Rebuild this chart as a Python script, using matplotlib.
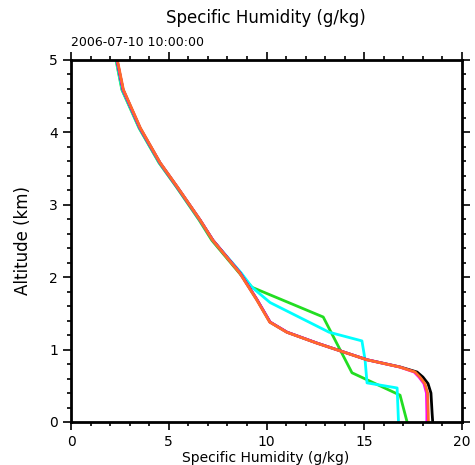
import matplotlib
matplotlib.use("Agg")
import matplotlib.pyplot as plt
from matplotlib.ticker import MultipleLocator

# altitude levels (km) and specific humidity (g/kg) for each profile
alt_main = [0.0, 0.12, 0.4, 0.53, 0.62, 0.69, 0.76, 0.86, 0.97, 1.09, 1.24, 1.38,
            1.69, 2.06, 2.51, 2.79, 3.25, 3.58, 4.06, 4.59, 5.0]
q_black = [18.5, 18.47, 18.41, 18.26, 18.0, 17.7, 16.83, 15.14, 13.91, 12.58, 11.05, 10.18,
           9.51, 8.64, 7.26, 6.6, 5.42, 4.55, 3.53, 2.66, 2.35]
q_magenta = [18.2, 18.2, 18.18, 18.05, 17.8, 17.55, 16.8, 15.14, 13.91, 12.58, 11.05, 10.18,
             9.51, 8.64, 7.26, 6.6, 5.42, 4.55, 3.53, 2.66, 2.35]
q_orange = [18.28, 18.27, 18.24, 18.1, 17.85, 17.6, 16.8, 15.12, 13.9, 12.56, 11.03, 10.16,
            9.49, 8.62, 7.25, 6.6, 5.43, 4.56, 3.55, 2.68, 2.37]

alt_green = [0.0, 0.37, 0.68, 1.45, 1.86, 2.06, 2.51, 2.79, 3.25, 3.58, 4.06, 4.59, 5.0]
q_green = [17.19, 16.83, 14.37, 12.9, 9.26, 8.6, 7.2, 6.55, 5.38, 4.5, 3.48, 2.6, 2.3]

alt_cyan = [0.0, 0.47, 0.54, 0.86, 1.12, 1.24, 1.65, 1.86, 2.06, 2.51, 2.79, 3.25, 3.58,
            4.06, 4.59, 5.0]
q_cyan = [16.75, 16.68, 15.14, 15.04, 14.88, 13.2, 10.18, 9.26, 8.7, 7.25, 6.58, 5.4, 4.52,
          3.5, 2.62, 2.32]

fig = plt.figure(figsize=(4.75, 4.65), dpi=100)
ax = fig.add_axes([0.1495, 0.0925, 0.8232, 0.7785])

ax.plot(q_green, alt_green, color='#22dd22', linewidth=2)
ax.plot(q_cyan, alt_cyan, color='cyan', linewidth=2)
ax.plot(q_black, alt_main, color='black', linewidth=2)
ax.plot(q_magenta, alt_main, color='magenta', linewidth=2)
ax.plot(q_orange, alt_main, color='#ff6a2a', linewidth=2)

ax.set_xlim(0, 20)
ax.set_ylim(0, 5)
ax.xaxis.set_major_locator(MultipleLocator(5))
ax.xaxis.set_minor_locator(MultipleLocator(1))
ax.yaxis.set_major_locator(MultipleLocator(1))
ax.yaxis.set_minor_locator(MultipleLocator(0.2))
ax.tick_params(which='both', direction='out', top=True, right=True,
               labelsize=10, width=1.2)
ax.tick_params(which='major', length=6)
ax.tick_params(which='minor', length=3)
for sp in ax.spines.values():
    sp.set_linewidth(2)

ax.set_ylabel('Altitude (km)', fontsize=12, labelpad=12)
fig.text(0.56, 0.016, 'Specific Humidity (g/kg)', ha='center', va='center', fontsize=10)
fig.text(0.56, 0.961, 'Specific Humidity (g/kg)', ha='center', va='center', fontsize=12)
fig.text(0.149, 0.909, '2006-07-10 10:00:00', ha='left', va='center', fontsize=9)

fig.savefig('out.png', dpi=100)
